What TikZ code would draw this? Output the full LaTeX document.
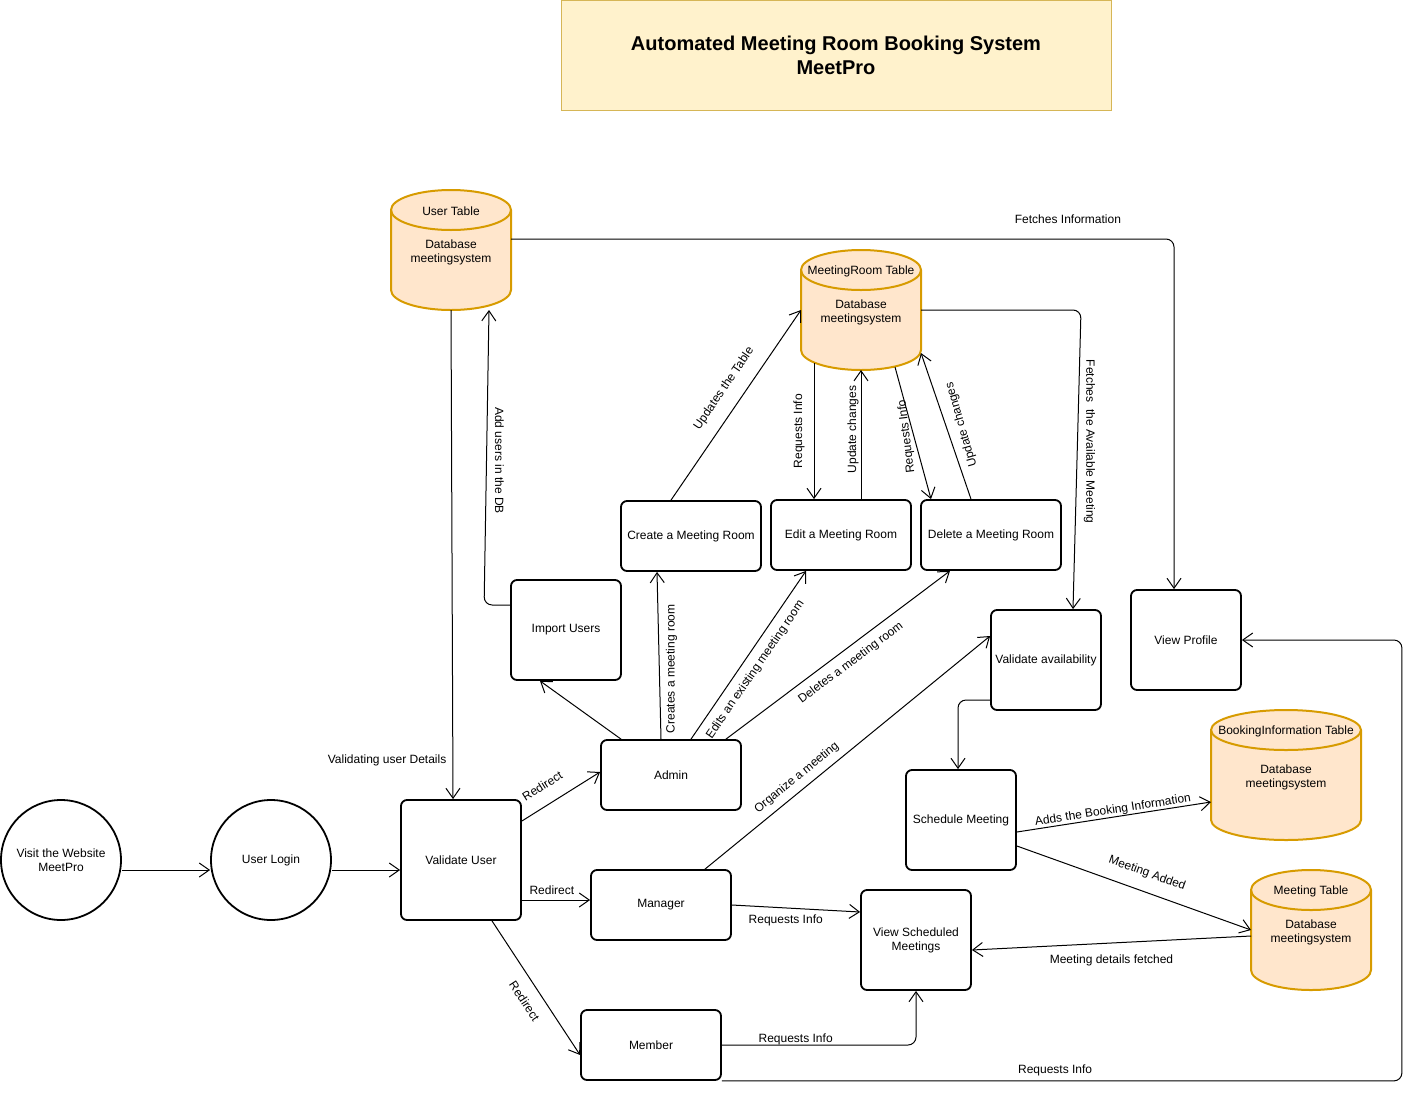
\documentclass[tikz,border=0pt]{standalone}
\usepackage{fontspec}
\setmainfont{Liberation Sans}
\usetikzlibrary{arrows.meta}
\definecolor{dbfill}{HTML}{FFE6CC}
\definecolor{dbedge}{HTML}{D79B00}
\definecolor{titlefill}{HTML}{FFF2CC}
\definecolor{titleedge}{HTML}{D6B656}

% database cylinder: name, centre, width, height, table name
\newcommand{\dbtable}[5]{%
  \node[dbbox, minimum width=#3pt, minimum height=#4pt] (#1) at #2 {};
  \filldraw[dbline, fill=dbfill] ([yshift=-20pt]#1.north west) -- ([yshift=20pt]#1.south west)
    arc[start angle=180, end angle=360, x radius=#3pt/2, y radius=20pt]
    -- ([yshift=-20pt]#1.north east)
    arc[start angle=0, end angle=180, x radius=#3pt/2, y radius=20pt] -- cycle;
  \draw[dbline] ([yshift=-20pt]#1.north west)
    arc[start angle=180, end angle=360, x radius=#3pt/2, y radius=20pt];
  \node (#1-name) at ([yshift=-21pt]#1.north) {#5};
  \node[align=center] (#1-text) at ([yshift=-2pt]#1.center) {Database\\meetingsystem};
}

\begin{document}
\begin{tikzpicture}[x=1pt, y=-1pt,
    font=\fontsize{12}{14}\selectfont,
    >={Straight Barb[length=10pt,width=14pt]},
    proc/.style={draw, line width=1.8pt, rounded corners=6pt, align=center, inner sep=1pt},
    wide/.style={proc, minimum width=140pt, minimum height=70pt},
    sq/.style={proc, minimum width=110pt, minimum height=100pt},
    circnode/.style={draw, circle, line width=1.8pt, minimum size=120pt, inner sep=0pt, align=center},
    dbbox/.style={rectangle, inner sep=0pt, outer sep=0pt},
    dbline/.style={draw=dbedge, line width=2pt},
    flow/.style={->, line width=1pt}]
\useasboundingbox (0,0) rectangle (1416,1095);

\node[draw=titleedge, fill=titlefill, minimum width=550pt, minimum height=110pt, align=center,
      font=\fontsize{20}{24}\selectfont\bfseries] (title) at (836,55)
      {Automated Meeting Room Booking System\\MeetPro};

% processes
\node[circnode] (visit) at (61,860) {Visit the Website\\MeetPro};
\node[circnode] (login) at (271,860) {User Login};
\node[proc, minimum width=120pt, minimum height=120pt] (vu) at (461,860) {Validate User};
\node[sq] (imp) at (566,630) {Import Users};
\node[wide] (admin) at (671,775) {Admin};
\node[wide] (create) at (691,536) {Create a Meeting Room};
\node[wide] (edit) at (841,535) {Edit a Meeting Room};
\node[wide] (del) at (991,535) {Delete a Meeting Room};
\node[sq] (avail) at (1046,660) {Validate availability};
\node[sq] (profile) at (1186,640) {View Profile};
\node[sq] (sched) at (961,820) {Schedule Meeting};
\node[wide] (mgr) at (661,905) {Manager};
\node[sq] (viewmt) at (916,940) {View Scheduled\\Meetings};
\node[wide] (member) at (651,1045) {Member};

% tables
\dbtable{usertbl}{(451,250)}{120}{120}{User Table}
\dbtable{roomtbl}{(861,310)}{120}{120}{MeetingRoom Table}
\dbtable{booktbl}{(1286,775)}{150}{130}{BookingInformation Table}
\dbtable{meettbl}{(1311,930)}{120}{120}{Meeting Table}

% login flow
\draw[flow] ([yshift=-10pt]visit.east) -- ([yshift=-10pt]login.west);
\draw[flow] ([yshift=-10pt]login.east) -- ([yshift=-10pt]vu.west);
\draw[flow] (usertbl.south) -- node[pos=0.92, left, inner sep=6pt] {Validating user Details} ([xshift=-8pt]vu.north);
\draw[flow] ([yshift=39pt]vu.east) -- node[pos=0.39, sloped, above, inner sep=14pt] {Redirect} ([yshift=3pt]admin.west);
\draw[flow] ([yshift=-40pt]vu.east) -- node[pos=0.44, above, inner sep=5pt] {Redirect} ([yshift=5pt]mgr.west);
\draw[flow] ([xshift=31pt]vu.south) -- node[pos=0.53, sloped, below, inner sep=12pt] {Redirect} ([yshift=-10pt]member.west);

% admin
\draw[flow] ([xshift=-50pt]admin.north) -- ([xshift=-26pt]imp.south);
\draw[flow, rounded corners=8pt] ([yshift=25pt]imp.west) -- ++(-26,0)
  -- node[pos=0.49, rotate=-90, anchor=south, inner sep=8pt] {Add users in the DB} ([xshift=38pt]usertbl.south);
\draw[flow] ([xshift=-10pt]admin.north) -- node[pos=0.42, rotate=90, anchor=north, inner sep=6pt] {Creates a meeting room} ([xshift=-34pt]create.south);
\draw[flow] ([xshift=20pt]admin.north) -- node[pos=0.46, sloped, below, inner sep=8pt] {Edits an existing meeting room} ([xshift=-35pt]edit.south);
\draw[flow] ([xshift=55pt]admin.north) -- node[pos=0.52, sloped, below, inner sep=8pt] {Deletes a meeting room} ([xshift=-41pt]del.south);

% meeting room table
\draw[flow] ([xshift=-20pt]create.north) -- node[pos=0.53, sloped, above, inner sep=13pt] {Updates the Table} (roomtbl.west);
\draw[flow] ([xshift=-47pt, yshift=7pt]roomtbl.south) -- node[pos=0.5, rotate=90, anchor=south, inner sep=9pt] {Requests Info} ([xshift=-27pt]edit.north);
\draw[flow] ([xshift=20pt]edit.north) -- node[pos=0.54, rotate=90, anchor=south, inner sep=2pt] {Update changes} (roomtbl.south);
\draw[flow] ([xshift=34pt, yshift=3pt]roomtbl.south) -- node[pos=0.52, rotate=97, anchor=south, inner sep=1pt] {Requests Info} ([xshift=-60pt]del.north);
\draw[flow] ([xshift=-20pt]del.north) -- node[pos=0.48, rotate=106, anchor=north, inner sep=9pt] {Update changes} ([yshift=-43pt]roomtbl.east);
\draw[flow, rounded corners=8pt] (roomtbl.east) -- ++(160,0)
  -- node[pos=0.44, rotate=-90, anchor=south, inner sep=6pt] {Fetches~ the Available Meeting} ([xshift=27pt]avail.north);
\draw[flow, rounded corners=8pt] ([yshift=11pt]usertbl.east) -| node[pos=0.42, above, inner sep=15pt] {Fetches Information} ([xshift=-12pt]profile.north);

% booking
\draw[flow] ([xshift=44pt]mgr.north) -- node[pos=0.35, sloped, above, inner sep=6.5pt] {Organize a meeting} ([yshift=24pt]avail.west);
\draw[flow, rounded corners=8pt] ([yshift=-40pt]avail.west) -| ([xshift=-3pt]sched.north);
\draw[flow] ([yshift=-12pt]sched.east) -- node[midway, sloped, above, inner sep=0.5pt] {Adds the Booking Information} ([yshift=-27pt]booktbl.west);
\draw[flow] ([yshift=-26pt]sched.east) -- node[pos=0.53, sloped, above, inner sep=12pt] {Meeting Added} (meettbl.west);
\draw[flow] ([yshift=-6pt]meettbl.west) -- node[midway, below, inner sep=11.5pt] {Meeting details fetched} ([yshift=-10pt]viewmt.east);

% viewing
\draw[flow] (mgr.east) -- node[pos=0.42, below, inner sep=6pt] {Requests Info} ([yshift=28pt]viewmt.west);
\draw[flow, rounded corners=8pt] (member.east) -| node[pos=0.19, above, inner sep=0pt] {Requests Info} (viewmt.south);
\draw[flow, rounded corners=8pt] (member.south east) -- node[pos=0.49, above, inner sep=4.5pt] {Requests Info} ++(680,0) |- (profile.east);
\end{tikzpicture}
\end{document}
